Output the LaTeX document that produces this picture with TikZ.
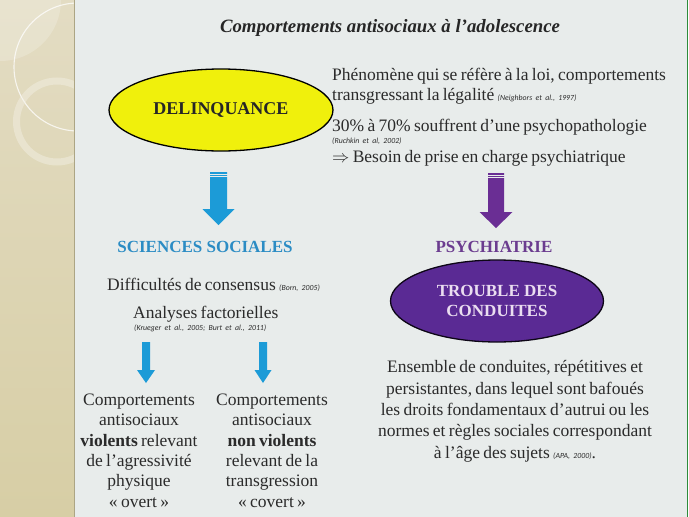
\documentclass[tikz,border=0pt]{standalone}
\usepackage{fontspec}
\setmainfont{Liberation Serif}
\newfontfamily\citefont{Carlito}
\usetikzlibrary{shapes.geometric}
\definecolor{bg}{HTML}{E8ECEB}
\definecolor{stripTop}{HTML}{E3DCC3}
\definecolor{stripBot}{HTML}{D7CEA5}
\definecolor{ink}{HTML}{2B2B2B}
\definecolor{yel}{HTML}{F0F00C}
\definecolor{ablue}{HTML}{1C9BD7}
\definecolor{tblue}{HTML}{2B8CC4}
\definecolor{apurple}{HTML}{6A2E94}
\definecolor{tpurple}{HTML}{6B3C8F}
\definecolor{epurple}{HTML}{5A2A94}
\definecolor{lav}{HTML}{EADDF0}
\definecolor{grn}{HTML}{2E8B3A}
\newcommand\cit[1]{{\citefont\itshape\fontsize{7.8}{9}\selectfont #1}}
\newcommand\tightsp{\spaceskip=0.19em plus 0.08em minus 0.04em\relax}
% block arrow: {color}{cx}{top}{headtop}{tip}{shaft half width}{head half width}
\newcommand\blockarr[7]{%
  \fill[#1] (#2-#6,#3) -- (#2+#6,#3) -- (#2+#6,#4) -- (#2+#7,#4) -- (#2,#5)
    -- (#2-#7,#4) -- (#2-#6,#4) -- cycle;}
\tikzset{
  txt/.style={font=\rmfamily\fontsize{17.5}{20.4}\selectfont\tightsp, text=ink, inner sep=0pt},
  head/.style={font=\bfseries\fontsize{17}{20}\selectfont, inner sep=0pt},
}
\begin{document}
\begin{tikzpicture}[x=1pt,y=-1pt]
\useasboundingbox (0,0) rectangle (689,517);
\fill[bg] (0,0) rectangle (689,517);
% left decorative strip
\shade[top color=stripTop, bottom color=stripBot] (0,0) rectangle (74,517);
\begin{scope}
  \clip (0,0) rectangle (74,517);
  \fill[white, opacity=0.2] (0,0) circle (61);
  \draw[white, opacity=0.75, line width=1.1pt] (78,67) circle (64);
  \draw[white!60!stripTop, opacity=0.45, line width=7pt] (57,121.5) circle (40.5);
\end{scope}
\draw[stripBot!80!black, line width=0.6pt] (74,0) -- (74,517);
% right border
\fill[white] (687,0) rectangle (689,517);
\draw[grn, line width=0.8pt] (687,0) -- (687,517);

% title
\node[font=\bfseries\itshape\fontsize{18.8}{22}\selectfont, text=black!85, inner sep=0pt, anchor=base] (title) at (390,32) {Comportements antisociaux à l’adolescence};

% DELINQUANCE ellipse
\node[ellipse, draw=black, line width=1.3pt, fill=yel, minimum width=224pt, minimum height=82pt, inner sep=0pt,
      font=\bfseries\fontsize{18}{20}\selectfont, text=black!85] (delin) at (221,110) {DELINQUANCE};

% right text block
\node[txt, anchor=base west] (l1) at (332,80) {Phénomène qui se réfère à la loi, comportements};
\node[txt, anchor=base west] (l2) at (332,100) {transgressant la légalité \cit{(Neighbors et al., 1997)}};
\node[txt, anchor=base west] (l3) at (332,131) {30\% à 70\% souffrent d’une psychopathologie};
\node[txt, anchor=base west] (l4) at (332,143) {\cit{(Ruchkin et al, 2002)}};
\node[txt, anchor=base west] (l5) at (332,162) {$\Rightarrow$ Besoin de prise en charge psychiatrique};

% big arrows with striped tops
\blockarr{ablue}{218.5}{172}{209}{225}{8.5}{16}
\blockarr{apurple}{496}{173}{212}{228}{8}{16.5}
\draw[bg, line width=0.8pt] (209,174) -- (228,174) (209,176.2) -- (228,176.2);
\draw[bg, line width=0.8pt] (487,175) -- (505,175) (487,177.2) -- (505,177.2);

% headings
\node[head, text=tblue, anchor=base] (socs) at (205,252) {SCIENCES SOCIALES};
\node[head, text=tpurple, anchor=base] (psy) at (494,252) {PSYCHIATRIE};

% left side texts
\node[txt, anchor=base west] (diff) at (107,290) {Difficultés de consensus \cit{(Born, 2005)}};
\node[txt, anchor=base west] (anal) at (133,318) {Analyses factorielles};
\node[txt, anchor=base west] (krue) at (134,330) {\cit{(Krueger et al., 2005; Burt et al., 2011)}};

% small arrows
\blockarr{ablue}{146}{342}{370}{383}{4}{9}
\blockarr{ablue}{263}{342}{370}{383}{4}{8.5}

% columns
\node[txt, align=center, anchor=north] (colA) at (139,393.5) {Comportements\\antisociaux\\\textbf{violents} relevant\\de l’agressivité\\physique\\« overt »};
\node[txt, align=center, anchor=north] (colB) at (272,393.5) {Comportements\\antisociaux\\\textbf{non violents}\\relevant de la\\transgression\\« covert »};

% purple ellipse
\node[ellipse, draw=black!85!epurple, line width=1.3pt, fill=epurple, minimum width=213pt, minimum height=82pt, inner sep=0pt,
      align=center, font=\bfseries\fontsize{17}{20}\selectfont, text=lav] (tdc) at (497,301) {TROUBLE DES\\CONDUITES};

% paragraph
\node[txt, align=center, anchor=north, font=\rmfamily\fontsize{17.5}{21.3}\selectfont\tightsp] (para) at (515,360.5)
 {Ensemble de conduites, répétitives et\\persistantes, dans lequel sont bafoués\\les droits fondamentaux d’autrui ou les\\normes et règles sociales correspondant\\à l’âge des sujets \cit{(APA, 2000)}.};
\end{tikzpicture}
\end{document}
